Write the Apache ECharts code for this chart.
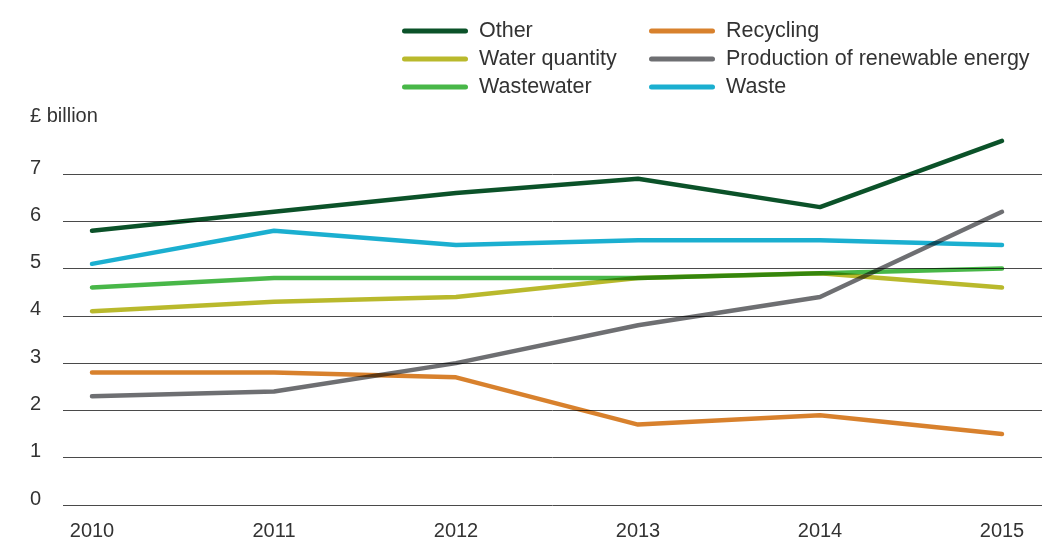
<!DOCTYPE html>
<html>
<head>
<meta charset="utf-8">
<script src="https://cdn.jsdelivr.net/npm/echarts@6/dist/echarts.min.js"></script>
<style>
html,body{margin:0;padding:0;background:#fff;}
#chart{width:1062px;height:542px;}
</style>
</head>
<body>
<div id="chart"></div>
<script>
const years = ['2010', '2011', '2012', '2013', '2014', '2015'];
const yTicks = [0, 1, 2, 3, 4, 5, 6, 7];
const other = [5.8, 6.2, 6.6, 6.9, 6.3, 7.7];
const waterQuantity = [4.1, 4.3, 4.4, 4.8, 4.9, 4.6];
const wastewater = [4.6, 4.8, 4.8, 4.8, 4.9, 5.0];
const recycling = [2.8, 2.8, 2.7, 1.7, 1.9, 1.5];
const renewable = [2.3, 2.4, 3.0, 3.8, 4.4, 6.2];
const waste = [5.1, 5.8, 5.5, 5.6, 5.6, 5.5];

const names = {
  other: 'Other',
  wq: 'Water quantity',
  ww: 'Wastewater',
  rec: 'Recycling',
  ren: 'Production of renewable energy',
  waste: 'Waste'
};
const colors = {
  other: '#0b5229',
  wq: '#b9b92c',
  ww: '#48b748',
  rec: '#d8812d',
  ren: '#6e6f72',
  waste: '#1bafd0'
};

const FONT = '"Liberation Sans", Arial, sans-serif';
const capsule = 'path://M2.5,0 H63.5 A2.5,2.5 0 0 1 63.5,5 H2.5 A2.5,2.5 0 0 1 2.5,0 Z';

function lineSeries(key, data) {
  return {
    name: names[key],
    type: 'line',
    xAxisIndex: 1,
    yAxisIndex: 1,
    data: data,
    symbol: 'none',
    smooth: false,
    clip: false,
    blendMode: 'multiply',
    color: colors[key],
    lineStyle: { width: 4.5, color: colors[key], cap: 'round', join: 'round' },
    emphasis: { disabled: true },
    animation: false
  };
}

const legendBase = {
  orient: 'vertical',
  top: 15,
  itemWidth: 66,
  itemHeight: 5,
  itemGap: 6,
  icon: capsule,
  selectedMode: false,
  textStyle: { fontFamily: FONT, fontSize: 21.5, color: '#333', lineHeight: 21, padding: [0, 0, 0, 6] }
};

const chart = echarts.init(document.getElementById('chart'), null, { renderer: 'canvas' });
chart.setOption({
  backgroundColor: '#fff',
  animation: false,
  title: {
    text: '£ billion',
    left: 30,
    top: 106,
    padding: 0,
    textStyle: { fontFamily: FONT, fontSize: 20, fontWeight: 'normal', color: '#333' }
  },
  legend: [
    Object.assign({}, legendBase, { left: 397, data: [names.other, names.wq, names.ww] }),
    Object.assign({}, legendBase, { left: 644, data: [names.rec, names.ren, names.waste] })
  ],
  grid: [
    { left: 63, right: 20, top: 174, height: 331 },
    { left: 92, right: 60, top: 174, height: 331 }
  ],
  xAxis: [
    { type: 'category', gridIndex: 0, data: years, show: false },
    {
      type: 'category', gridIndex: 1, data: years, boundaryGap: false,
      axisLine: { show: false }, axisTick: { show: false },
      axisLabel: { fontFamily: FONT, fontSize: 20, color: '#333', margin: 16 }
    }
  ],
  yAxis: [
    {
      type: 'value', gridIndex: 0, min: yTicks[0], max: yTicks[yTicks.length - 1], interval: 1,
      axisLine: { show: false }, axisTick: { show: false },
      splitLine: { show: true, lineStyle: { color: '#4a4a4a', width: 1 } },
      axisLabel: {
        fontFamily: FONT, fontSize: 20, color: '#333', align: 'left', margin: 33,
        verticalAlign: 'bottom', lineHeight: 12
      }
    },
    { type: 'value', gridIndex: 1, min: 0, max: 7, interval: 1, show: false, splitLine: { show: false } }
  ],
  series: [
    lineSeries('rec', recycling),
    lineSeries('ren', renewable),
    lineSeries('wq', waterQuantity),
    lineSeries('ww', wastewater),
    lineSeries('waste', waste),
    lineSeries('other', other)
  ]
});
</script>
</body>
</html>
